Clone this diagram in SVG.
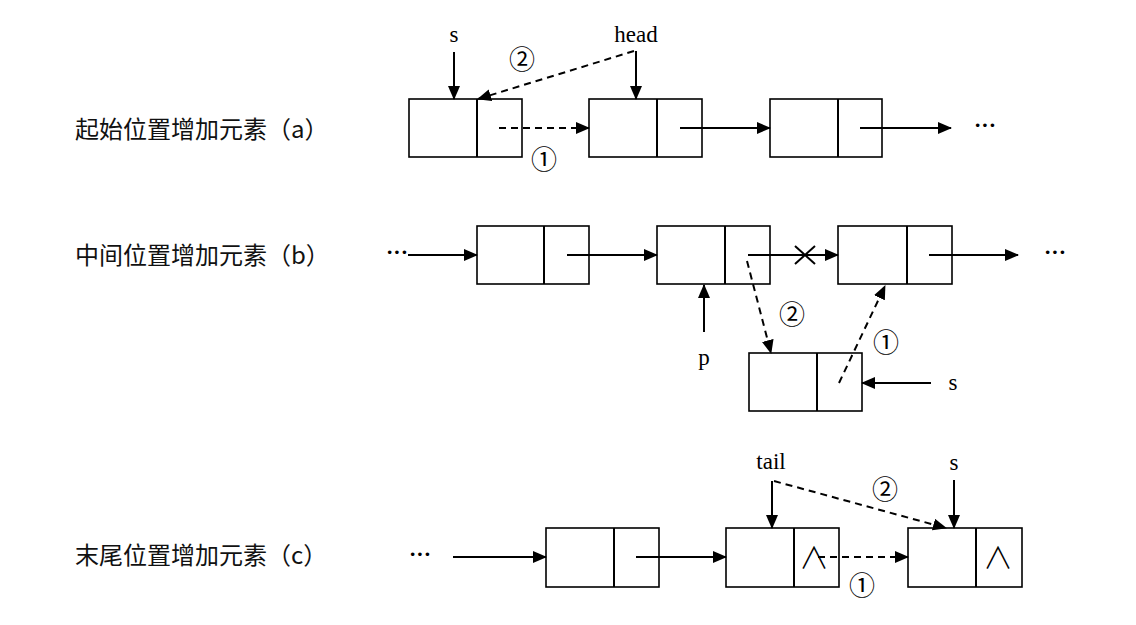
<svg xmlns="http://www.w3.org/2000/svg" width="1136" height="625" viewBox="0 0 1136 625">
<style>
.box{fill:#fff;stroke:#000;stroke-width:1.6}
.ln{stroke:#000;stroke-width:2;fill:none}
.ds{stroke:#000;stroke-width:2;fill:none;stroke-dasharray:7 5}
.cap{font-family:"Noto Sans CJK SC","Noto Sans",sans-serif;font-size:24px;fill:#111}
.lbl{font-family:"Liberation Serif",serif;font-size:23px;fill:#000;text-anchor:middle}
.num{font-family:"Noto Sans CJK SC",sans-serif;font-size:26px;fill:#000;text-anchor:middle}
.dots{font-family:"Liberation Serif",serif;font-size:22px;font-weight:bold;fill:#000;text-anchor:middle}
.nil{font-family:"Noto Sans CJK SC",sans-serif;font-size:30px;font-weight:300;fill:#000;text-anchor:middle}
</style>
<defs>
<marker id="ah" markerUnits="userSpaceOnUse" markerWidth="14" markerHeight="12" refX="13" refY="6" orient="auto">
<path d="M0,0 L14,6 L0,12 Z" fill="#000"/>
</marker>
</defs>
<rect width="1136" height="625" fill="#fff"/>

<g id="captions">
<text class="cap" x="75" y="138">起始位置增加元素（a）</text>
<text class="cap" x="75" y="264">中间位置增加元素（b）</text>
<text class="cap" x="75" y="564">末尾位置增加元素（c）</text>
</g>

<!-- row a -->
<g id="a-s-node"><rect class="box" x="409" y="99" width="113" height="58"/><line class="ln" x1="477" y1="99" x2="477" y2="157" stroke-width="1.6"/></g>
<g id="a-head-node"><rect class="box" x="589" y="99" width="113" height="58"/><line class="ln" x1="657" y1="99" x2="657" y2="157" stroke-width="1.6"/></g>
<g id="a-node3"><rect class="box" x="770" y="99" width="112" height="58"/><line class="ln" x1="838" y1="99" x2="838" y2="157" stroke-width="1.6"/></g>
<g id="a-labels">
<text class="lbl" x="454" y="42">s</text>
<text class="lbl" x="636" y="42">head</text>
<text class="num" x="522" y="69">②</text>
<text class="num" x="544" y="169">①</text>
<text class="dots" x="985" y="132">···</text>
</g>

<!-- row b -->
<g id="b-node1"><rect class="box" x="477" y="226" width="112" height="58"/><line class="ln" x1="544" y1="226" x2="544" y2="284" stroke-width="1.6"/></g>
<g id="b-p-node"><rect class="box" x="657" y="226" width="113" height="58"/><line class="ln" x1="725" y1="226" x2="725" y2="284" stroke-width="1.6"/></g>
<g id="b-node3"><rect class="box" x="838" y="226" width="114" height="58"/><line class="ln" x1="907" y1="226" x2="907" y2="284" stroke-width="1.6"/></g>
<g id="b-s-node"><rect class="box" x="749" y="353" width="113" height="58"/><line class="ln" x1="817" y1="353" x2="817" y2="411" stroke-width="1.6"/></g>
<g id="b-labels">
<text class="dots" x="397" y="259">···</text>
<text class="dots" x="1055" y="259">···</text>
<text class="lbl" x="704" y="365">p</text>
<text class="lbl" x="953" y="390">s</text>
<text class="num" x="792" y="324">②</text>
<text class="num" x="886" y="352">①</text>
</g>

<!-- row c -->
<g id="c-node1"><rect class="box" x="546" y="528" width="113" height="59"/><line class="ln" x1="614" y1="528" x2="614" y2="587" stroke-width="1.6"/></g>
<g id="c-tail-node"><rect class="box" x="726" y="528" width="113" height="59"/><line class="ln" x1="794" y1="528" x2="794" y2="587" stroke-width="1.6"/><text class="nil" x="814" y="568">∧</text></g>
<g id="c-s-node"><rect class="box" x="908" y="528" width="114" height="59"/><line class="ln" x1="976" y1="528" x2="976" y2="587" stroke-width="1.6"/><text class="nil" x="998" y="568">∧</text></g>
<g id="c-labels">
<text class="dots" x="420" y="561">···</text>
<text class="lbl" x="771" y="469">tail</text>
<text class="lbl" x="954" y="470">s</text>
<text class="num" x="885" y="499">②</text>
<text class="num" x="862" y="595">①</text>
</g>

<g id="connectors">
<!-- row a -->
<line class="ln" x1="454" y1="52" x2="454" y2="99" marker-end="url(#ah)"/>
<line class="ln" x1="636" y1="51" x2="636" y2="99" marker-end="url(#ah)"/>
<line class="ds" x1="634" y1="51" x2="478" y2="99" marker-end="url(#ah)"/>
<line class="ds" x1="499" y1="128" x2="589" y2="128" marker-end="url(#ah)"/>
<line class="ln" x1="680" y1="128" x2="770" y2="128" marker-end="url(#ah)"/>
<line class="ln" x1="860" y1="128" x2="951" y2="128" marker-end="url(#ah)"/>
<!-- row b -->
<line class="ln" x1="408" y1="255" x2="477" y2="255" marker-end="url(#ah)"/>
<line class="ln" x1="567" y1="255" x2="657" y2="255" marker-end="url(#ah)"/>
<line class="ln" x1="748" y1="255" x2="838" y2="255" marker-end="url(#ah)"/>
<line class="ln" x1="795" y1="246" x2="815" y2="264" stroke-width="1.6"/>
<line class="ln" x1="795" y1="264" x2="815" y2="246" stroke-width="1.6"/>
<line class="ln" x1="929" y1="255" x2="1018" y2="255" marker-end="url(#ah)"/>
<line class="ln" x1="704" y1="332" x2="704" y2="285" marker-end="url(#ah)"/>
<line class="ds" x1="747" y1="261" x2="771" y2="353" marker-end="url(#ah)"/>
<line class="ds" x1="839" y1="383" x2="885" y2="286" marker-end="url(#ah)"/>
<line class="ln" x1="931" y1="383" x2="862" y2="383" marker-end="url(#ah)"/>
<!-- row c -->
<line class="ln" x1="453" y1="557" x2="546" y2="557" marker-end="url(#ah)"/>
<line class="ln" x1="636" y1="557" x2="726" y2="557" marker-end="url(#ah)"/>
<line class="ds" x1="818" y1="557" x2="908" y2="557" marker-end="url(#ah)"/>
<line class="ln" x1="772" y1="481" x2="772" y2="528" marker-end="url(#ah)"/>
<line class="ds" x1="774" y1="481" x2="946" y2="528" marker-end="url(#ah)"/>
<line class="ln" x1="954" y1="480" x2="954" y2="528" marker-end="url(#ah)"/>
</g>
</svg>
